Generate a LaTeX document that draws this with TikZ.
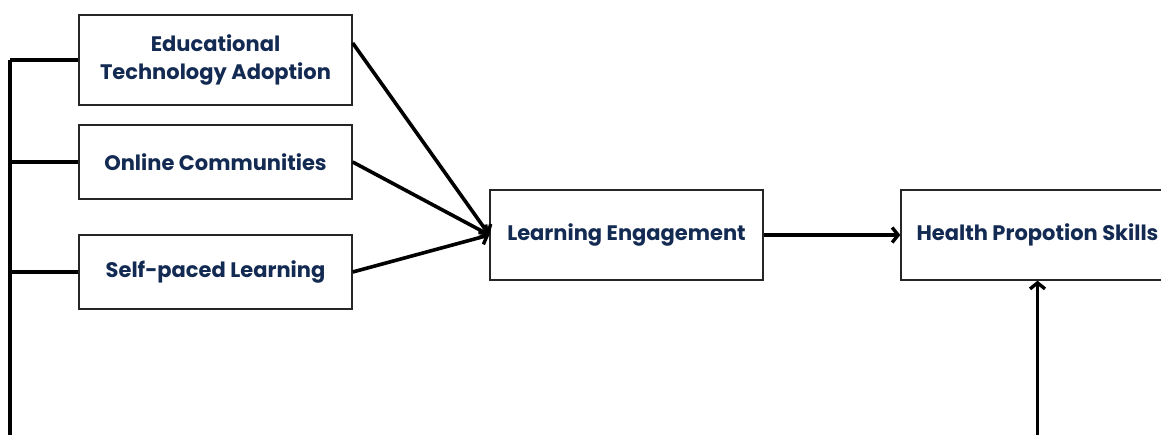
\documentclass[tikz,border=0pt]{standalone}
\usepackage{fontspec}
\setmainfont{Poppins}
\usetikzlibrary{arrows.meta}
\definecolor{inkblue}{HTML}{132A52}

\begin{document}
\begin{tikzpicture}[
  box/.style={draw=black!85, line width=1.4pt, minimum width=273pt, inner sep=0pt,
    align=center, text=inkblue, font=\fontsize{21}{28}\selectfont\bfseries},
  link/.style={line width=3.6pt},
  arr/.style={link, -{Straight Barb[length=6pt,width=15pt,line width=3.4pt]}}]
\useasboundingbox (0,0) rectangle (1161pt,-434pt);
\node[box, minimum height=90pt] (eta) at (215.5pt, -60pt) {Educational\\Technology Adoption};
\node[box, minimum height=74pt] (oc) at (215.5pt, -162pt) {Online Communities};
\node[box, minimum height=74pt] (spl) at (215.5pt, -272pt) {Self-paced Learning};
\node[box, minimum height=90pt] (le) at (626.5pt, -235pt) {Learning Engagement};
\node[box, minimum height=90pt] (hps) at (1037.5pt, -235pt) {Health Propotion Skills};
% left bus
\coordinate (bustop) at (10pt, -60pt);
\coordinate (busend) at (10pt, -436pt);
\draw[link] (bustop) -- (busend);
\draw[link] (eta.west) -- (eta.west -| busend);
\draw[link] (oc.west) -- (oc.west -| busend);
\draw[link] (spl.west) -- (spl.west -| busend);
% into engagement
\draw[arr] ([yshift=17pt]eta.east) -- (le.west);
\draw[arr] (oc.east) -- (le.west);
\draw[arr] (spl.east) -- (le.west);
\draw[arr] (le.east) -- (hps.west);
\coordinate (hpsin) at (1037.5pt, -436pt);
\draw[arr] (hpsin) -- (hps.south);
\end{tikzpicture}
\end{document}
